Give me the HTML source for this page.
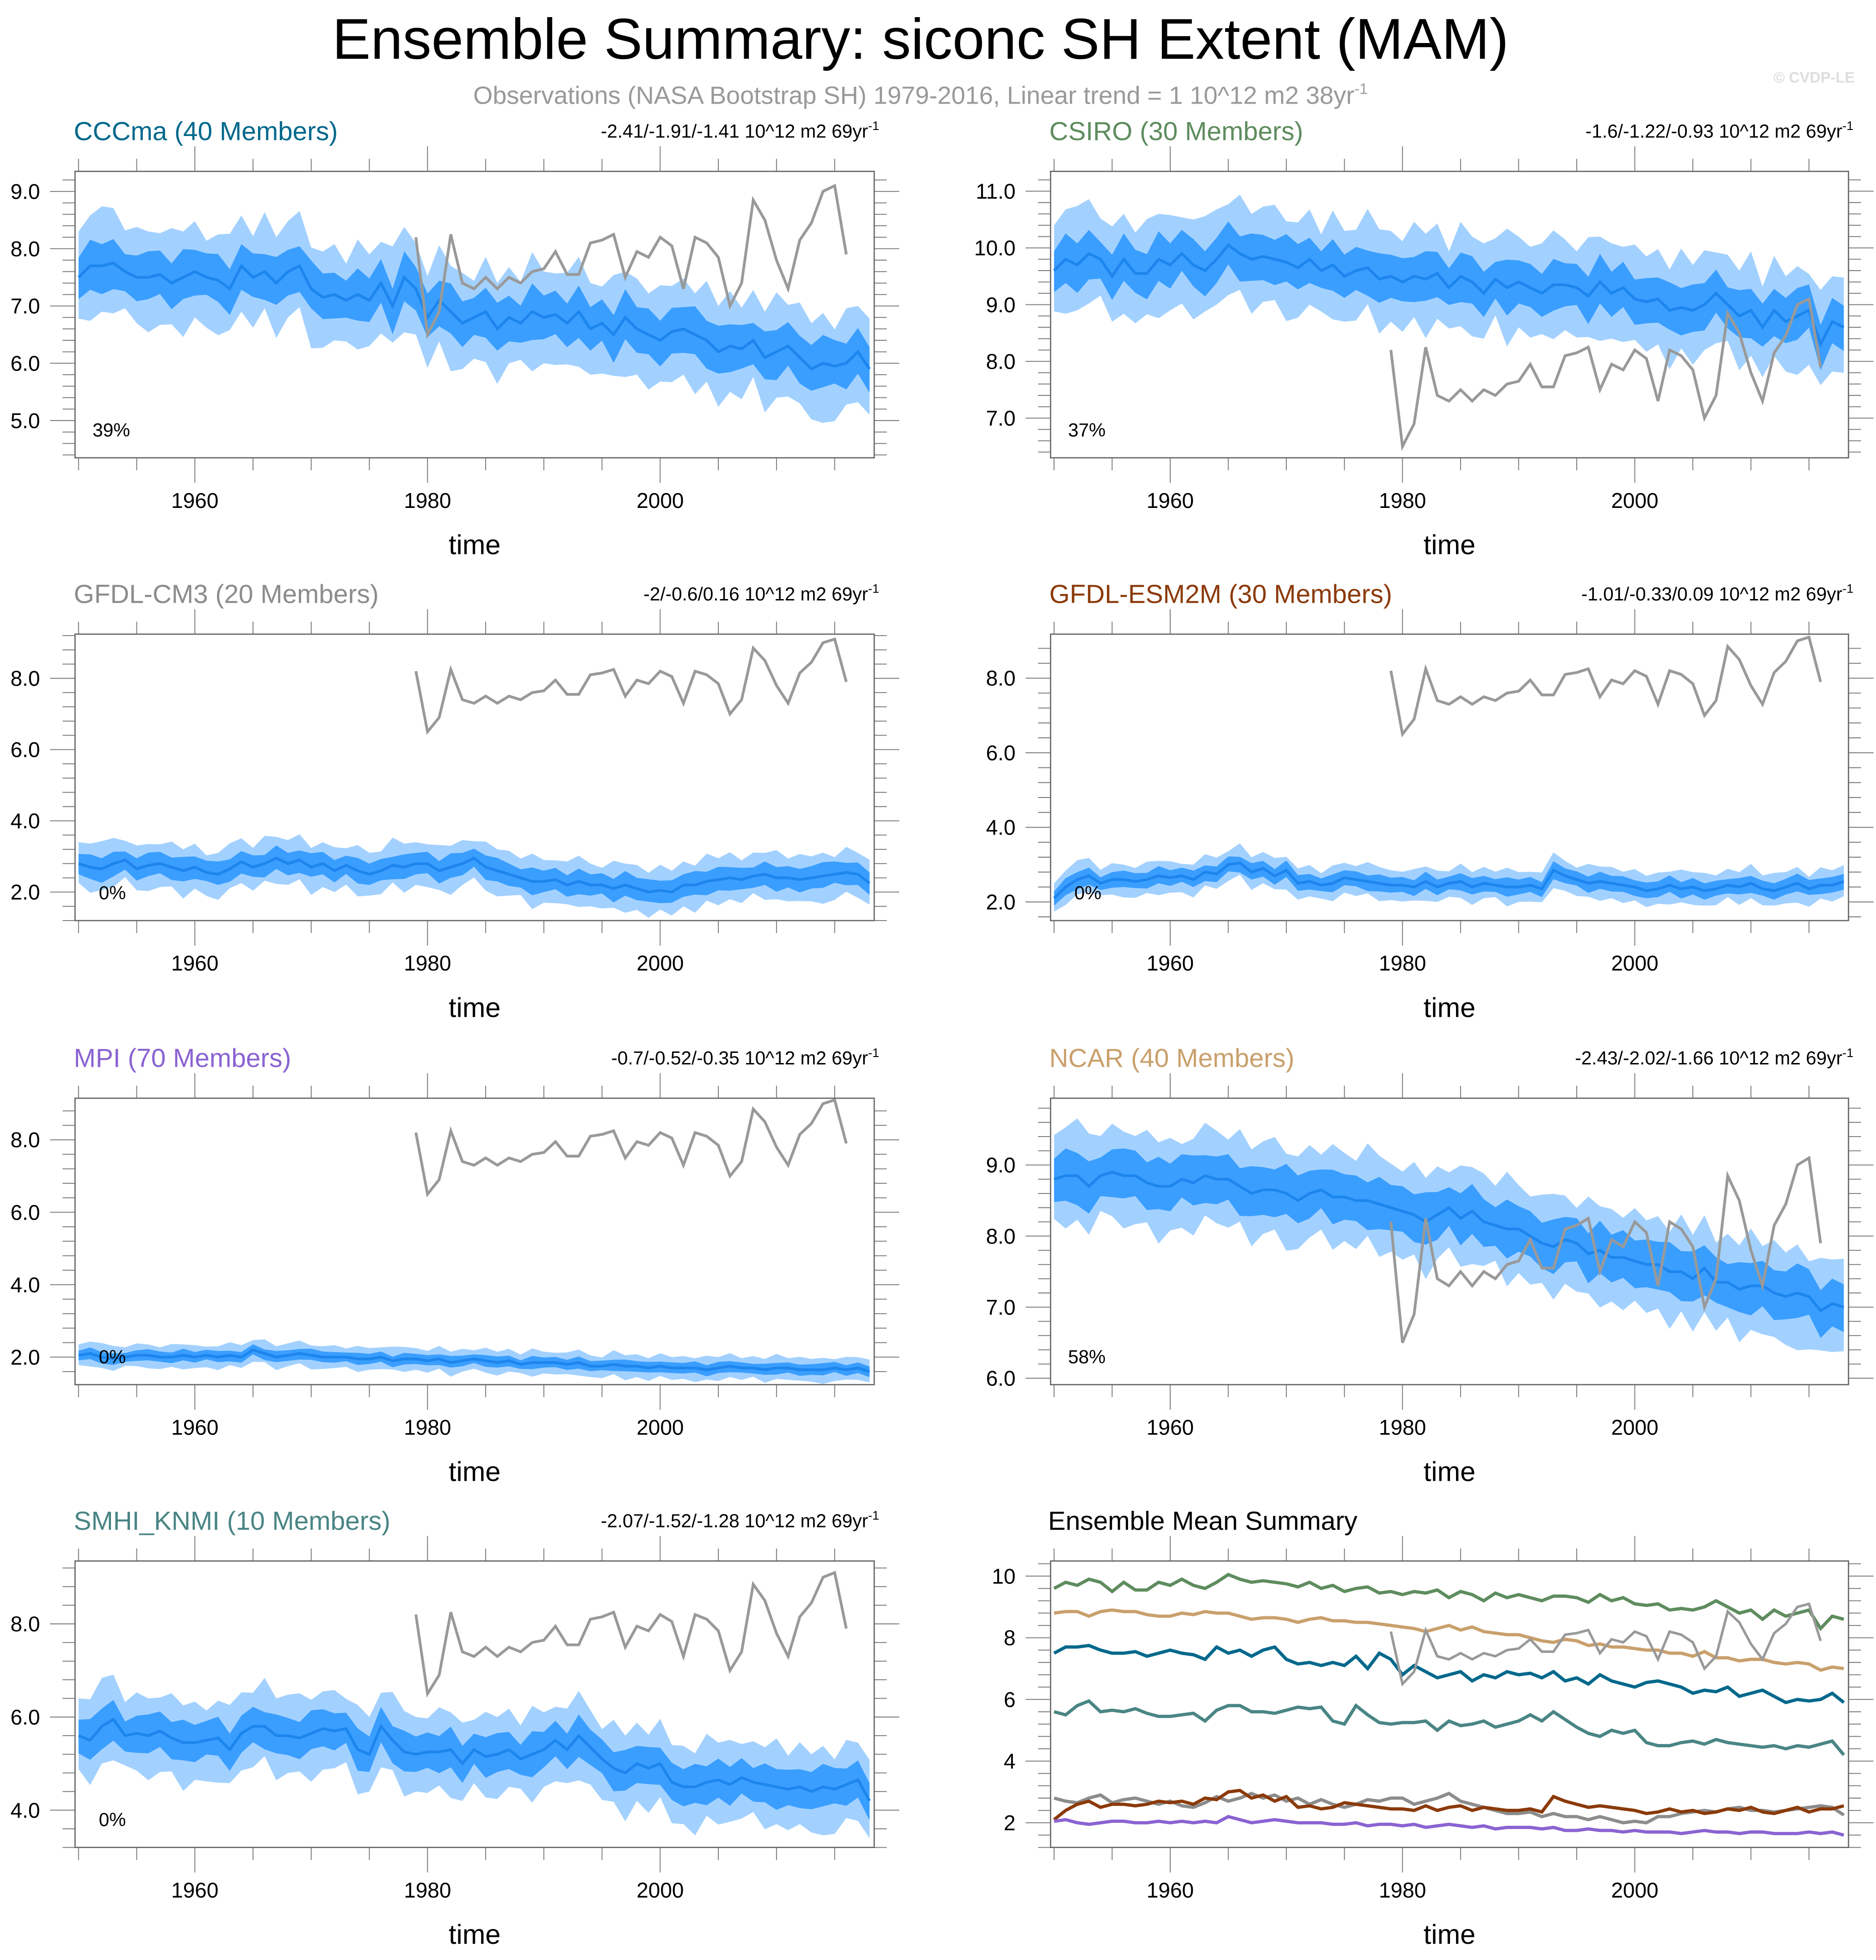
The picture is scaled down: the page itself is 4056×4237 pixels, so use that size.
<!DOCTYPE html>
<html><head><meta charset="utf-8"><title>Ensemble Summary: siconc SH Extent (MAM)</title>
<style>html,body{margin:0;padding:0;background:#fff}svg{display:block}text{font-family:"Liberation Sans",sans-serif}</style>
</head><body>
<svg id="chart" xmlns="http://www.w3.org/2000/svg" width="4056" height="4237" viewBox="0 0 1500 1567" preserveAspectRatio="none">
<rect width="1500" height="1567" fill="#fff"/>
<text x="736" y="47" text-anchor="middle" font-size="46">Ensemble Summary: siconc SH Extent (MAM)</text>
<text x="736" y="83" text-anchor="middle" font-size="20" fill="#999">Observations (NASA Bootstrap SH) 1979-2016, Linear trend = 1 10^12 m2 38yr<tspan font-size="12" dy="-8">-1</tspan></text>
<text x="1483" y="66" text-anchor="end" font-size="12" fill="#ddd" font-weight="bold">© CVDP-LE</text>
</svg>
<script>
const years = [];
for (let y = 1950; y <= 2018; y++) years.push(y);
const obsYears = [];
for (let y = 1979; y <= 2016; y++) obsYears.push(y);
const obsValues = [8.2,6.5,6.9,8.25,7.4,7.3,7.5,7.3,7.5,7.4,7.6,7.65,7.95,7.55,7.55,8.1,8.15,8.25,7.5,7.95,7.85,8.2,8.05,7.3,8.2,8.1,7.85,7.0,7.4,8.85,8.5,7.8,7.3,8.15,8.45,9.0,9.1,7.9];
const meanCCCma = [7.5,7.7,7.7,7.75,7.6,7.5,7.5,7.55,7.4,7.5, 7.6,7.5,7.45,7.3,7.7,7.5,7.6,7.4,7.6,7.7, 7.3,7.15,7.2,7.1,7.2,7.1,7.4,7.0,7.5,7.3, 6.8,7.1,6.9,6.7,6.8,6.9,6.6,6.8,6.7,6.9, 6.8,6.85,6.7,6.9,6.6,6.7,6.5,6.8,6.6,6.5, 6.4,6.55,6.6,6.5,6.4,6.2,6.3,6.25,6.4,6.1, 6.2,6.3,6.1,5.9,6.0,5.95,6.0,6.2,5.9];
const meanCSIRO = [9.6,9.8,9.7,9.9,9.8,9.5,9.8,9.55,9.55,9.8, 9.7,9.9,9.7,9.6,9.8,10.05,9.9,9.8,9.85,9.8, 9.75,9.65,9.8,9.6,9.7,9.5,9.6,9.65,9.45,9.5, 9.4,9.5,9.45,9.55,9.3,9.5,9.4,9.2,9.45,9.3, 9.4,9.3,9.2,9.35,9.35,9.3,9.15,9.4,9.2,9.3, 9.1,9.05,9.1,8.9,8.95,8.9,9.0,9.2,9.0,8.8, 8.9,8.6,8.9,8.7,8.8,8.9,8.3,8.7,8.6];
const meanCM3 = [2.8,2.7,2.65,2.8,2.9,2.65,2.75,2.8,2.7,2.6, 2.7,2.55,2.5,2.65,2.85,2.7,2.8,2.95,2.8,2.9, 2.7,2.8,2.6,2.75,2.6,2.5,2.6,2.75,2.7,2.8, 2.8,2.6,2.7,2.8,2.95,2.7,2.6,2.5,2.4,2.3, 2.3,2.35,2.2,2.3,2.2,2.2,2.1,2.2,2.1,2.0, 2.05,2.0,2.2,2.2,2.3,2.35,2.4,2.35,2.45,2.5, 2.4,2.4,2.35,2.4,2.45,2.5,2.55,2.5,2.25];
const meanESM2M = [2.1,2.4,2.6,2.7,2.5,2.6,2.6,2.55,2.6,2.7, 2.65,2.7,2.6,2.8,2.75,3.0,3.05,2.8,2.9,2.7, 2.85,2.5,2.55,2.45,2.5,2.65,2.6,2.55,2.5,2.45, 2.45,2.4,2.55,2.4,2.5,2.55,2.4,2.5,2.45,2.4, 2.4,2.45,2.35,2.85,2.7,2.6,2.5,2.55,2.5,2.45, 2.4,2.3,2.35,2.45,2.35,2.4,2.3,2.35,2.45,2.4, 2.5,2.35,2.3,2.4,2.5,2.35,2.45,2.45,2.55];
const meanMPI = [2.05,2.1,2.0,1.95,2.0,2.05,2.05,2.0,2.0,2.05, 2.0,2.05,2.0,2.05,2.0,2.2,2.1,2.0,2.05,2.1, 2.05,2.0,2.0,2.0,1.95,1.95,2.0,1.9,1.95,1.95, 1.9,1.95,1.85,1.9,1.95,1.9,1.85,1.9,1.8,1.85, 1.85,1.85,1.8,1.85,1.75,1.75,1.8,1.75,1.75,1.7, 1.75,1.7,1.7,1.7,1.65,1.7,1.75,1.7,1.7,1.65, 1.7,1.7,1.65,1.65,1.65,1.7,1.65,1.7,1.6];
const meanNCAR = [8.8,8.85,8.85,8.7,8.85,8.9,8.85,8.85,8.75,8.7, 8.7,8.8,8.75,8.85,8.8,8.8,8.7,8.6,8.65,8.65, 8.6,8.5,8.6,8.65,8.55,8.55,8.5,8.5,8.45,8.4, 8.35,8.3,8.2,8.3,8.4,8.25,8.35,8.2,8.15,8.1, 8.1,8.0,7.9,7.85,7.95,7.9,7.75,7.8,7.7,7.7, 7.65,7.6,7.6,7.5,7.5,7.4,7.55,7.35,7.35,7.25, 7.3,7.3,7.2,7.15,7.2,7.15,6.95,7.05,7.0];
const meanSMHI = [5.6,5.5,5.8,5.95,5.6,5.65,5.6,5.7,5.55,5.45, 5.45,5.5,5.55,5.3,5.65,5.8,5.8,5.6,5.6,5.55, 5.65,5.75,5.7,5.75,5.3,5.2,5.8,5.5,5.25,5.2, 5.25,5.25,5.3,5.0,5.3,5.15,5.2,5.3,5.1,5.2, 5.3,5.5,5.3,5.6,5.35,5.1,4.9,4.8,5.0,4.9, 5.0,4.6,4.5,4.5,4.6,4.65,4.55,4.7,4.6,4.55, 4.5,4.45,4.5,4.4,4.5,4.45,4.55,4.65,4.2];
const spreadJitter = [1.0,1.1,1.3,1.2,0.9,1.1,1.0,0.9,1.2,1.0,1.1,0.8,1.0,1.2,1.1,0.9,1.3,1.0,1.1,1.2,0.9,1.0,1.1,0.8,1.2,1.0,0.9,1.3,1.1,1.0,0.9,1.2,1.0,1.1,0.8,1.2,1.0,1.1,0.9,1.3,1.0,0.9,1.1,1.2,1.0,0.8,1.3,1.0,1.1,0.9,1.2,1.0,1.1,0.9,1.3,1.0,1.2,0.9,1.1,1.0,1.3,0.9,1.2,1.0,1.1,0.8,1.2,1.0,1.1];
const innerWidth = [0.38,0.38,0.3,0.2,0.14,0.32,0.38];
const outerWidth = [0.8,0.8,0.6,0.4,0.3,0.62,0.8];
const modelNames = ["CCCma (40 Members)","CSIRO (30 Members)","GFDL-CM3 (20 Members)","GFDL-ESM2M (30 Members)","MPI (70 Members)","NCAR (40 Members)","SMHI_KNMI (10 Members)"];
const trendLabels = ["-2.41/-1.91/-1.41 10^12 m2 69yr","-1.6/-1.22/-0.93 10^12 m2 69yr","-2/-0.6/0.16 10^12 m2 69yr","-1.01/-0.33/0.09 10^12 m2 69yr","-0.7/-0.52/-0.35 10^12 m2 69yr","-2.43/-2.02/-1.66 10^12 m2 69yr","-2.07/-1.52/-1.28 10^12 m2 69yr"];
const pctLabels = ["39%","37%","0%","0%","0%","58%","0%"];
const modelColors = ["#00688b","#5e8c5e","#8c8c8c","#8b3a0a","#8a63d2","#c9a06c","#4a8585"];
const yMins = [4.35,6.3,1.2,1.5,1.24,5.91,3.2];
const yMaxs = [9.35,11.35,9.24,9.18,9.15,9.94,9.35];
const yTickVals = [[5,6,7,8,9],[7,8,9,10,11],[2,4,6,8],[2,4,6,8],[2,4,6,8],[6,7,8,9],[4,6,8]];
const xTickVals = [1960,1980,2000];
const summaryTicks = [2,4,6,8,10];

const means = [meanCCCma,meanCSIRO,meanCM3,meanESM2M,meanMPI,meanNCAR,meanSMHI];
const svg = document.getElementById('chart');
const NS = 'http://www.w3.org/2000/svg';
function mk(tag, attrs, parent){const e=document.createElementNS(NS,tag);for(const k in attrs)e.setAttribute(k,attrs[k]);(parent||svg).appendChild(e);return e;}
const X0=1949.7, X1=2018.4;
const rowTops=[137,507,878,1248], H=229;
const colX=[[60,699],[840,1478]];

function drawAxes(g, px0, px1, top, bot, ymin, ymax, ticks, minorStep, fmt){
  const xs=v=>px0+(v-X0)/(X1-X0)*(px1-px0);
  const ys=v=>bot-(v-ymin)/(ymax-ymin)*(bot-top);
  for(let yr=1950; yr<=2015; yr+=5){
    const maj = yr%20===0;
    const L = maj?20:10;
    const x=xs(yr);
    mk('line',{x1:x,x2:x,y1:top,y2:top-L,stroke:'#777','stroke-width':0.7},g);
    mk('line',{x1:x,x2:x,y1:bot,y2:bot+L,stroke:'#777','stroke-width':0.7},g);
  }
  const start=Math.ceil(ymin/minorStep)*minorStep;
  for(let v=start; v<=ymax+1e-9; v+=minorStep){
    const y=ys(v);
    const maj=ticks.some(t=>Math.abs(t-v)<1e-6);
    const L=maj?20:10;
    mk('line',{x1:px0,x2:px0-L,y1:y,y2:y,stroke:'#777','stroke-width':0.7},g);
    mk('line',{x1:px1,x2:px1+L,y1:y,y2:y,stroke:'#777','stroke-width':0.7},g);
  }
  ticks.forEach(t=>{
    const tl=mk('text',{x:px0-28,y:ys(t)+6,'text-anchor':'end','font-size':17},g);
    
    
    tl.textContent=fmt(t);
  });
  xTickVals.forEach(t=>{
    const tl=mk('text',{x:xs(t),y:bot+40,'text-anchor':'middle','font-size':17},g);
    
    
    tl.textContent=t;
  });
  const xt=mk('text',{x:(px0+px1)/2,y:bot+77,'text-anchor':'middle','font-size':22},g);
  
  
  xt.textContent='time';
  return {xs,ys};
}
function linePath(xv, yv, xs, ys){return xv.map((x,i)=>(i?'L':'M')+xs(x).toFixed(2)+','+ys(yv[i]).toFixed(2)).join('');}
function bandPath(lo, hi, xs, ys){
  let d=years.map((x,i)=>(i?'L':'M')+xs(x).toFixed(2)+','+ys(hi[i]).toFixed(2)).join('');
  for(let i=years.length-1;i>=0;i--) d+='L'+xs(years[i]).toFixed(2)+','+ys(lo[i]).toFixed(2);
  return d+'Z';
}

for(let m=0;m<7;m++){
  const col=m%2, row=Math.floor(m/2);
  const px0=colX[col][0], px1=colX[col][1], top=rowTops[row], bot=top+H;
  const g=mk('g',{});
  
  
  const clipId='clip'+m;
  const cp=mk('clipPath',{id:clipId},g); mk('rect',{x:px0,y:top,width:px1-px0,height:H},cp);
  const minor = (yTickVals[m][1]-yTickVals[m][0])>1.5?0.4:0.2;
  const ax=drawAxes(g,px0,px1,top,bot,yMins[m],yMaxs[m],yTickVals[m],minor,v=>v.toFixed(1));
  const mean=means[m];
  const jit=i=>spreadJitter[i]||1;
  const jit2=i=>spreadJitter[(i+7)%spreadJitter.length]||1;
  const oLo=mean.map((v,i)=>v-outerWidth[m]*jit2(i)), oHi=mean.map((v,i)=>v+outerWidth[m]*jit(i));
  const iLo=mean.map((v,i)=>v-innerWidth[m]*jit(i)), iHi=mean.map((v,i)=>v+innerWidth[m]*jit2(i));
  const pg=mk('g',{'clip-path':'url(#'+clipId+')'},g);
  const ob=mk('path',{d:bandPath(oLo,oHi,ax.xs,ax.ys),fill:'#a3d1ff'},pg);
  
  
  const ib=mk('path',{d:bandPath(iLo,iHi,ax.xs,ax.ys),fill:'#3a9eff'},pg);
  
  
  const ml=mk('path',{d:linePath(years,mean,ax.xs,ax.ys),fill:'none',stroke:'#1c86ee','stroke-width':2.2},pg);
  
  
  const obl=mk('path',{d:linePath(obsYears,obsValues,ax.xs,ax.ys),fill:'none',stroke:'#999','stroke-width':2.2},pg);
  
  
  mk('rect',{x:px0,y:top,width:px1-px0,height:H,fill:'none',stroke:'#666','stroke-width':1},g);
  const t=mk('text',{x:px0-1,y:top-25,'font-size':21,fill:modelColors[m]},g);
  
  
  t.textContent=modelNames[m];
  const tr=mk('text',{x:px1+4,y:top-27,'text-anchor':'end','font-size':15},g);
  
  
  tr.textContent=trendLabels[m];
  const sup=mk('tspan',{'font-size':10,dy:-6},tr); sup.textContent='-1';
  const pc=mk('text',{x:px0+(pctLabels[m]==='0%'?19:14),y:bot-17,'font-size':15},g);
  
  
  pc.textContent=pctLabels[m];
}

// Summary panel
(function(){
  const px0=840, px1=1478, top=1248, bot=1477;
  const g=mk('g',{});
  
  
  const ax=drawAxes(g,px0,px1,top,bot,1.2,10.49,summaryTicks,0.4,v=>String(v));
  const cp=mk('clipPath',{id:'clipS'},g); mk('rect',{x:px0,y:top,width:px1-px0,height:bot-top},cp);
  const pg=mk('g',{'clip-path':'url(#clipS)'},g);
  for(let m=0;m<7;m++){
    const l=mk('path',{d:linePath(years,means[m],ax.xs,ax.ys),fill:'none',stroke:modelColors[m],'stroke-width':2.6},pg);
    
    
  }
  const ol=mk('path',{d:linePath(obsYears,obsValues,ax.xs,ax.ys),fill:'none',stroke:'#999','stroke-width':2},pg);
  
  
  mk('rect',{x:px0,y:top,width:px1-px0,height:bot-top,fill:'none',stroke:'#666','stroke-width':1},g);
  const t=mk('text',{x:838,y:1223,'font-size':21},g);
  
  
  t.textContent='Ensemble Mean Summary';
})();
</script>
</body></html>
